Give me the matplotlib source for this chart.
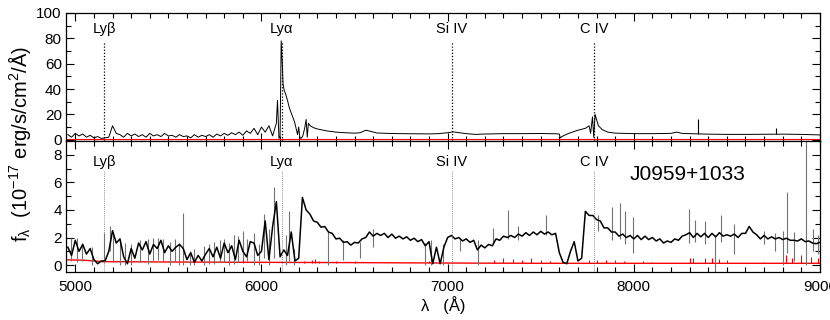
import numpy as np
import matplotlib
matplotlib.use("Agg")
import matplotlib.pyplot as plt
from matplotlib.ticker import MultipleLocator

plt.rcParams['font.family'] = ['Liberation Sans', 'DejaVu Sans']
plt.rcParams['mathtext.fontset'] = 'custom'
plt.rcParams['mathtext.rm'] = 'Liberation Sans'
plt.rcParams['mathtext.it'] = 'Liberation Sans:italic'
plt.rcParams['mathtext.default'] = 'regular'

# === LINES ===
line_names = ["Ly\u03b2", "Ly\u03b1", "Si IV", "C IV"]
line_waves = [5155, 6110, 7022, 7788]

# === TOP PANEL : composite-like spectrum ===
# noisy part, 4960 -> 6080 by 20 A
top_noise = [4, 2, 5, 3, 4.5, 2, 3.5, 1.5, 2.5, 1,
             1.5, 2, 11, 5, 4, 2, 5, 3, 4.5, 2.5,
             4, 2, 5, 3, 4, 2.5, 5, 3, 3.5, 2,
             4, 2.5, 3, 1.5, 4, 2, 3.5, 2.5, 4, 2,
             4.5, 3, 5, 3.5, 5.5, 4, 6, 3.5, 7, 5,
             9, 4, 10, 6, 11, 3, 13]
top_wave_red = [6086, 6094, 6100, 6106, 6112, 6116, 6122, 6130, 6140, 6150,
                6160, 6170, 6178, 6186, 6194, 6200, 6206, 6213, 6222, 6232,
                6240, 6246, 6252, 6262, 6280, 6300, 6350, 6400, 6450, 6500,
                6530, 6560, 6590, 6620, 6700, 6800, 6900, 6950, 7000, 7030,
                7060, 7100, 7150, 7200, 7300, 7400, 7500, 7580, 7600, 7605,
                7620, 7650, 7700, 7740, 7760, 7768, 7778, 7785, 7792, 7800,
                7810, 7830, 7860, 7900, 8000, 8100, 8200, 8230, 8260, 8300,
                8400, 8500, 8600, 8700, 8800, 8900, 9000]
top_flux_red = [31, 1, 3, 78, 60, 44, 39, 36, 31, 25,
                21, 17, 14, 9, 4, 10, 2, 1, 3, 9,
                16, 2, 13, 11, 9.5, 8.5, 7, 6, 5.5, 5.2,
                5.5, 7.5, 6.5, 5.3, 4.9, 4.7, 4.6, 4.8, 5.5, 6.2,
                5.6, 4.8, 4.2, 4.5, 4.8, 4.8, 4.9, 4.7, 4.5, 1.5,
                3, 5, 7.5, 9, 11, 5, 18, 2, 20, 16,
                11, 8, 6, 5.2, 4.8, 4.8, 5.0, 6.0, 5.0, 4.8,
                4.4, 4.2, 4.2, 4.3, 4.4, 4.2, 3.8]
top_spike_wave = [8344, 8764]
top_spike_hi = [16.7, 9.3]
top_err = [0.4, 0.4]

# === BOTTOM PANEL : J0959+1033, 4960 -> 9000 by 20 A ===
bot_flux = [1.3, 0.7, 1.8, 1.0, 1.5, 0.8, 1.2, 0.4, 0.1, 0.3,      # 4960
            0.3, 1.0, 2.5, 1.6, 1.9, 0.6, 0.1, 1.2, 0.5, 1.6,      # 5160
            1.1, 1.7, 0.8, 1.5, 1.2, 1.8, 0.9, 1.4, 1.0, 1.3,      # 5360
            1.5, 1.2, 0.4, 0.9, 0.2, 0.7, 0.3, 0.8, 1.2, 0.6,      # 5560
            1.3, 0.5, 1.6, 0.9, 1.4, 0.4, 1.8, 1.0, 0.6, 1.7,      # 5760
            1.6, 0.7, 1.0, 3.2, 0.4, 2.8, 4.6, 0.6, 1.1, 0.7,      # 5960
            2.4, 0.3, 0.5, 4.9, 4.0, 3.7, 3.2, 3.1, 2.75, 2.8,     # 6160
            2.4, 2.3, 1.9, 1.95, 1.65, 1.7, 1.45, 1.65, 1.6, 1.9,  # 6360
            2.0, 2.4, 2.1, 2.3, 2.15, 2.3, 2.0, 2.25, 1.95, 2.1,   # 6560
            1.9, 2.05, 1.8, 1.95, 1.7, 1.85, 1.4, 1.7, 0.1, 1.3,   # 6760
            0.1, 1.3, 2.0, 2.15, 1.9, 2.0, 1.75, 1.9, 1.65, 1.8,   # 6960
            1.1, 1.45, 1.25, 1.5, 1.4, 1.9, 1.8, 2.1, 2.0, 2.15,   # 7160
            2.0, 2.25, 2.1, 2.35, 2.15, 2.4, 2.2, 2.45, 2.25, 2.4, # 7360
            2.2, 2.3, 0.9, 0.2, 0.1, 1.0, 1.7, 0.3, 0.5, 3.9,      # 7560
            3.6, 3.6, 3.3, 3.2, 2.7, 2.7, 2.4, 2.4, 2.1, 2.25,     # 7760
            2.0, 2.15, 1.9, 2.15, 1.85, 2.1, 1.85, 2.0, 1.75, 1.9, # 7960
            1.6, 1.75, 1.65, 1.9, 1.8, 2.1, 2.2, 2.35, 2.0, 2.3,   # 8160
            2.05, 2.3, 2.0, 2.3, 2.05, 2.35, 2.1, 2.2, 2.1, 2.25,  # 8360
            2.0, 2.3, 2.3, 2.8, 2.4, 2.2, 1.9, 2.15, 1.9, 2.05,    # 8560
            1.9, 2.0, 1.85, 1.95, 1.8, 1.8, 1.75, 1.9, 1.7, 1.75,  # 8760
            1.6, 1.55, 1.65]                                       # 8960

# narrow features (sky lines, absorption) : wavelength, low, high
spike_wave = [4975, 5010, 5035, 5090, 5155, 5187, 5205, 5240, 5265, 5300,
              5345, 5390, 5420, 5445, 5470, 5510, 5535, 5555, 5581, 5615,
              5640, 5690, 5720, 5745, 5775, 5800, 5825, 5850, 5875, 5900,
              5925, 5960, 5985, 6016, 6040, 6070, 6130, 6150, 6175, 6356,
              6440, 6530, 6600, 6880, 6912, 6975, 7065, 7163, 7245, 7323,
              7380, 7530, 7807, 7882, 7925, 7952, 7995, 8296, 8330, 8380,
              8435, 8470, 8540, 8700, 8760, 8800, 8823, 8860, 8925, 8960,
              8990]
spike_lo = [0.3, 0.2, 0.3, 0.0, 0.2, 1.0, 0.2, 0.0, 0.0, 0.0,
            0.2, 0.1, 0.3, 0.4, 0.2, 0.0, 0.2, 0.0, 0.0, 0.0,
            0.0, 0.0, 0.1, 0.1, 0.2, 0.2, 0.0, 0.1, 0.2, 0.4,
            0.3, 0.0, 0.0, 0.5, 0.0, 0.5, 0.0, 0.3, 0.0, 0.0,
            0.4, 0.5, 1.3, 0.0, 0.0, 0.0, 1.0, 0.0, 1.5, 1.9,
            1.8, 2.2, 2.5, 1.8, 1.9, 1.5, 0.9, 1.6, 1.7, 1.5,
            -0.5, 1.7, 0.8, 1.5, 1.0, 0.0, 0.9, 0.3, 0.0, 1.0,
            0.8]
spike_hi = [2.0, 2.0, 1.6, 1.3, 2.3, 2.8, 2.2, 1.9, 1.6, 1.5,
            1.8, 1.9, 2.0, 2.0, 1.9, 1.7, 1.9, 1.6, 3.8, 1.0,
            1.2, 1.4, 1.5, 1.7, 1.8, 1.9, 1.6, 2.2, 2.1, 2.5,
            1.9, 2.3, 1.5, 3.7, 2.6, 5.7, 2.2, 3.9, 1.2, 2.5,
            1.8, 1.7, 2.6, 1.6, 1.8, 1.5, 1.9, 1.8, 2.7, 4.0,
            2.8, 3.6, 3.6, 4.2, 4.5, 3.9, 3.5, 4.1, 3.3, 3.2,
            2.2, 3.6, 3.0, 2.5, 2.3, 2.5, 5.3, 2.4, 9.5, 2.6,
            2.2]

# error spectrum
err_wave = [4960, 5050, 5150, 5300, 5600, 6000, 6500, 7000, 7500, 8000, 8500, 9000]
err_flux = [0.38, 0.35, 0.25, 0.24, 0.22, 0.2, 0.18, 0.15, 0.13, 0.13, 0.13, 0.13]
err_spike_wave = [5900, 6230, 6270, 6290, 6310, 6400, 6500, 6900, 7250, 7300,
                  7350, 7400, 7450, 7500, 7550, 7760, 7800, 7850, 7900, 7950,
                  8050, 8100, 8300, 8320, 8380, 8420, 8460, 8500, 8700, 8820,
                  8850, 8900, 8950, 8990]
err_spike_hi = [0.55, 0.3, 0.35, 0.45, 0.3, 0.3, 0.3, 0.3, 0.4, 0.5,
                0.45, 0.35, 0.5, 0.4, 0.3, 0.35, 0.35, 0.4, 0.35, 0.3,
                0.3, 0.25, 0.55, 0.5, 0.5, 0.55, 0.45, 0.4, 0.2, 0.7,
                0.5, 0.75, 0.6, 0.5]

top_wave = list(4960 + 20 * np.arange(len(top_noise))) + top_wave_red
top_flux = top_noise + top_flux_red
bot_wave = 4960 + 20 * np.arange(len(bot_flux))

# === FIGURE ===
fig = plt.figure(figsize=(8.3, 3.2), dpi=100)
ax1 = fig.add_axes([0.0795, 0.5594, 0.9084, 0.400])
ax2 = fig.add_axes([0.0795, 0.150, 0.9084, 0.4094])

# top panel
ax1.plot([4950, 9000], top_err, color="red", lw=0.8)
ax1.plot(top_wave, top_flux, color="black", lw=0.7)
ax1.vlines(top_spike_wave, 4.5, top_spike_hi, color="black", lw=0.8)
for name, w in zip(line_names, line_waves):
    ax1.plot([w, w], [-1, 78], color="black", ls=(0, (1, 1.5)), lw=0.9)
    ax1.text(w, 87, name, ha="center", va="center", fontsize=10.5)
ax1.set_ylim(-1, 100)
ax1.yaxis.set_major_locator(MultipleLocator(20))
ax1.yaxis.set_minor_locator(MultipleLocator(10))
ax1.tick_params(labelbottom=False)

# bottom panel
ax2.plot(err_wave, err_flux, color="red", lw=1.0)
ax2.vlines(err_spike_wave, 0.12, err_spike_hi, color="red", lw=0.8)
ax2.vlines(spike_wave, spike_lo, spike_hi, color="0.45", lw=0.8)
ax2.plot(bot_wave, bot_flux, color="black", lw=1.1)
for name, w in zip(line_names, line_waves):
    ax2.plot([w, w], [-0.5, 6.8], color="0.4", ls=(0, (1, 1.5)), lw=0.6)
    ax2.text(w, 7.5, name, ha="center", va="center", fontsize=10.5)
ax2.text(8290, 6.6, "J0959+1033", ha="center", va="center", fontsize=15)
ax2.set_ylim(-0.5, 9)
ax2.yaxis.set_major_locator(MultipleLocator(2))
ax2.yaxis.set_minor_locator(MultipleLocator(1))
ax2.set_xlabel("\u03bb   (\u00c5)", fontsize=12, labelpad=1)

for ax in (ax1, ax2):
    ax.set_xlim(4950, 9000)
    ax.xaxis.set_major_locator(MultipleLocator(1000))
    ax.xaxis.set_minor_locator(MultipleLocator(100))
    ax.tick_params(which="both", direction="in", top=True, right=True, labelsize=11)
    ax.tick_params(which="major", length=6, width=0.8)
    ax.tick_params(which="minor", length=3.5, width=0.8)
    ax.tick_params(axis="y", pad=3)
    ax.tick_params(axis="x", pad=6)
    for s in ax.spines.values():
        s.set_linewidth(0.9)

fig.text(0.024, 0.55, "f$_\\lambda$  (10$^{-17}$ erg/s/cm$^2$/\u00c5)",
         rotation=90, ha="center", va="center", fontsize=14.5)

plt.savefig("out.png", dpi=100)
